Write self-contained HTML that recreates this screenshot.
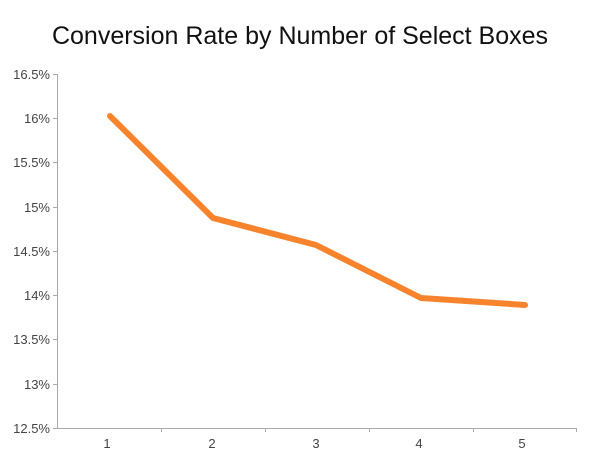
<!DOCTYPE html>
<html><head><style>
body{margin:0;background:#fff;}
svg{display:block;font-family:"Liberation Sans",Helvetica,sans-serif;}
</style></head><body>
<svg width="600" height="464" viewBox="0 0 600 464">
<text x="300" y="44" text-anchor="middle" font-size="25" fill="#111" font-weight="300">Conversion Rate by Number of Select Boxes</text>
<g stroke="#aaa" stroke-width="1">
<line x1="57.5" y1="74" x2="57.5" y2="428"/>
<line x1="57" y1="428.5" x2="577" y2="428.5"/>
<line x1="53" y1="74.5" x2="57" y2="74.5"/>
<line x1="53" y1="118.5" x2="57" y2="118.5"/>
<line x1="53" y1="162.5" x2="57" y2="162.5"/>
<line x1="53" y1="207.5" x2="57" y2="207.5"/>
<line x1="53" y1="251.5" x2="57" y2="251.5"/>
<line x1="53" y1="295.5" x2="57" y2="295.5"/>
<line x1="53" y1="339.5" x2="57" y2="339.5"/>
<line x1="53" y1="384.5" x2="57" y2="384.5"/>
<line x1="53" y1="428.5" x2="57" y2="428.5"/>
<line x1="161.5" y1="428" x2="161.5" y2="432"/>
<line x1="265.5" y1="428" x2="265.5" y2="432"/>
<line x1="369.5" y1="428" x2="369.5" y2="432"/>
<line x1="473.5" y1="428" x2="473.5" y2="432"/>
<line x1="576.5" y1="428" x2="576.5" y2="432"/>
</g>
<g font-size="13" fill="#444" text-anchor="end">
<text x="50" y="79">16.5%</text>
<text x="50" y="123">16%</text>
<text x="50" y="167">15.5%</text>
<text x="50" y="212">15%</text>
<text x="50" y="256">14.5%</text>
<text x="50" y="300">14%</text>
<text x="50" y="344">13.5%</text>
<text x="50" y="389">13%</text>
<text x="50" y="433">12.5%</text>
</g>
<g font-size="13" fill="#444" text-anchor="middle">
<text x="107" y="448">1</text>
<text x="212" y="448">2</text>
<text x="316" y="448">3</text>
<text x="419" y="448">4</text>
<text x="522" y="448">5</text>
</g>
<polyline points="110,116 213,218 316,245 421,298 525,305" fill="none" stroke="#f7842c" stroke-width="6" stroke-linecap="round" stroke-linejoin="round"/>
</svg>
</body></html>
